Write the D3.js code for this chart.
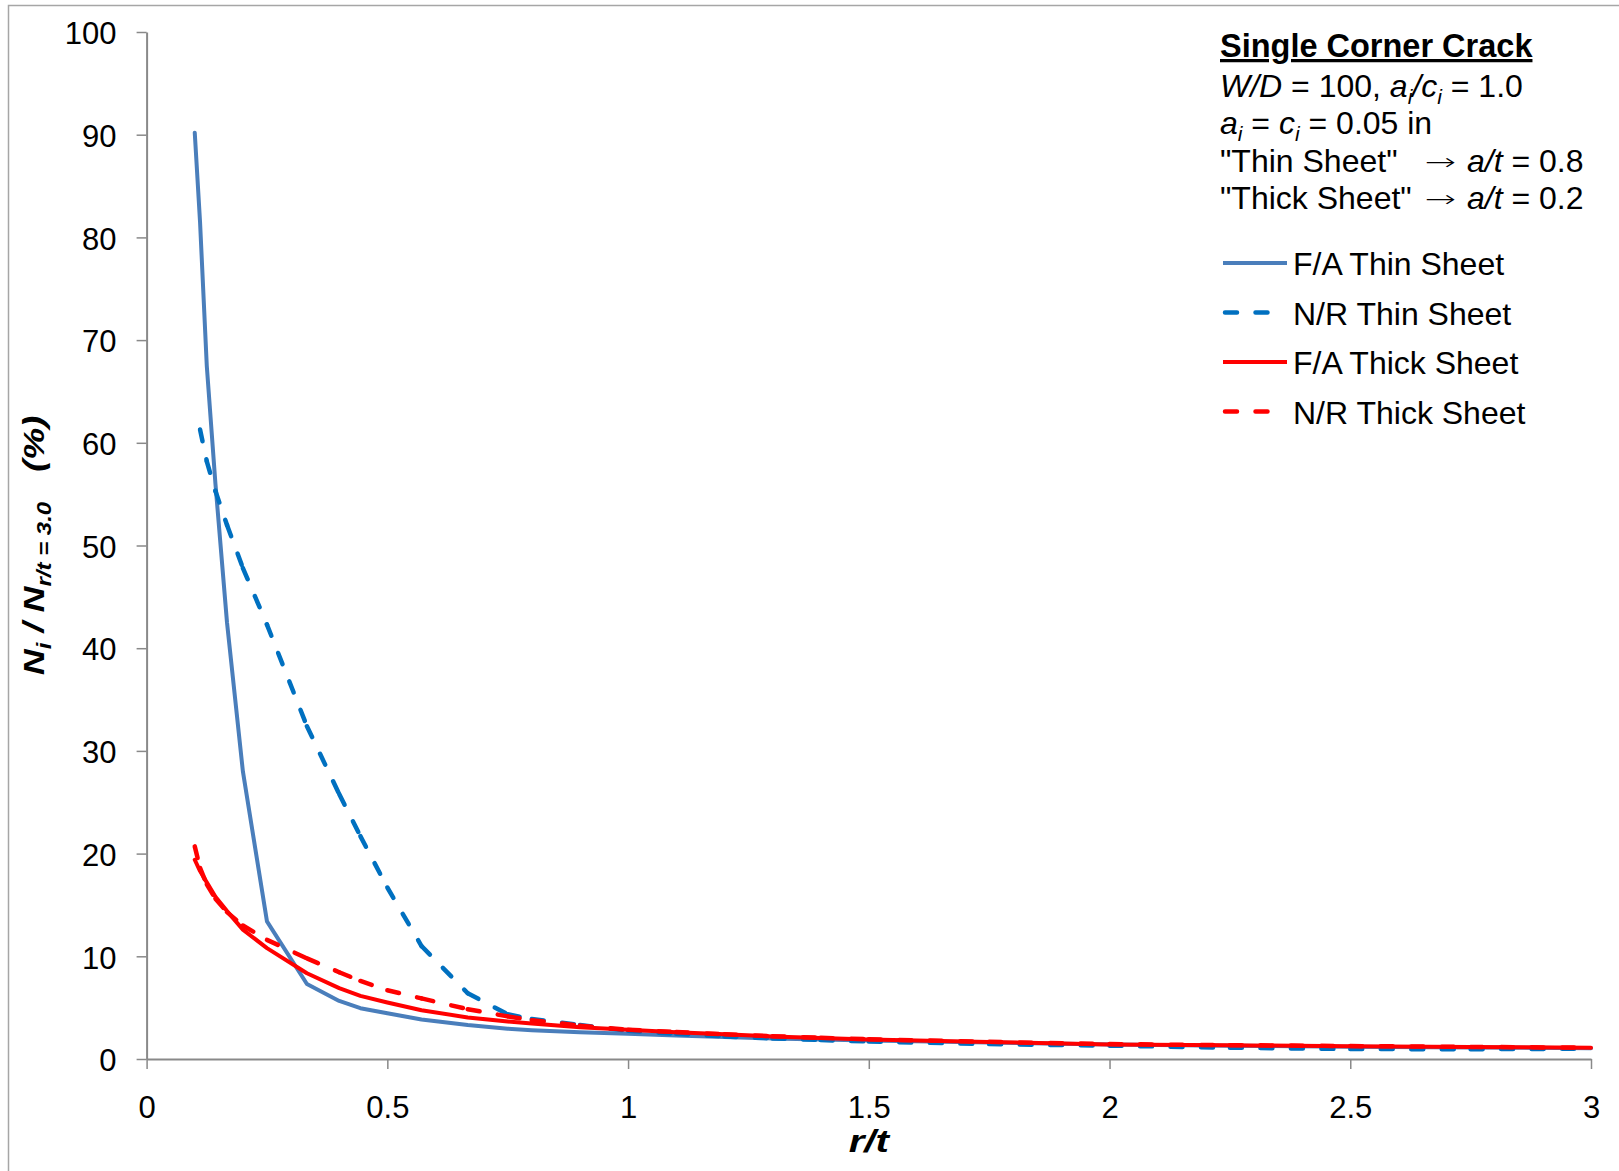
<!DOCTYPE html>
<html>
<head>
<meta charset="utf-8">
<script src="https://cdn.jsdelivr.net/npm/d3@7"></script>
<style>
  body { margin: 0; background: #fff; }
  svg { display: block; font-family: 'Liberation Sans', Arial, sans-serif; }
</style>
</head>
<body>
<div id="graph"></div>
<script>
// r/t values shared by every series
var rt = [0.1, 0.111, 0.125, 0.143, 0.167, 0.2, 0.25, 0.333, 0.4, 0.444, 0.5, 0.571, 0.667, 0.75,
          0.8, 0.9, 1.0, 1.1, 1.2, 1.3, 1.4, 1.5, 1.75, 2.0, 2.25, 2.5, 2.75, 3.0];

// Ni / N(r/t=3.0) in %
var faThin  = [90.2, 81.5, 67.5, 56.0, 42.5, 28.0, 13.4, 7.3, 5.65, 4.95, 4.45, 3.85, 3.3, 2.95,
               2.8, 2.6, 2.45, 2.3, 2.15, 2.0, 1.9, 1.8, 1.6, 1.4, 1.3, 1.2, 1.12, 1.05];
var nrThin  = [null, 61.3, 58.2, 55.3, 52.0, 47.8, 42.3, 32.4, 25.8, 21.7, 16.7, 11.0, 6.4, 4.35,
               3.9, 3.3, 2.75, 2.45, 2.2, 2.0, 1.85, 1.7, 1.45, 1.3, 1.1, 0.97, 0.95, 1.0];
var faThick = [19.4, 18.3, 17.2, 15.8, 14.4, 12.6, 10.8, 8.35, 6.9, 6.15, 5.5, 4.75, 4.05, 3.65,
               3.45, 3.1, 2.85, 2.6, 2.4, 2.2, 2.05, 1.9, 1.65, 1.42, 1.33, 1.25, 1.17, 1.1];
var nrThick = [20.7, 18.6, 17.0, 15.6, 14.3, 13.0, 11.6, 9.8, 8.45, 7.6, 6.7, 5.9, 4.85, 4.15,
               3.78, 3.25, 2.85, 2.62, 2.42, 2.22, 2.07, 1.92, 1.67, 1.45, 1.35, 1.26, 1.18, 1.1];

var seriesNames = ['F/A Thin Sheet', 'N/R Thin Sheet', 'F/A Thick Sheet', 'N/R Thick Sheet'];
var xTicks = [0, 0.5, 1, 1.5, 2, 2.5, 3];
var yTicks = [0, 10, 20, 30, 40, 50, 60, 70, 80, 90, 100];

(function() {
  'use strict';
  var
    width = 1619,
    height = 1171,
    margin = {top: 32, right: 28, bottom: 112, left: 146.6},
    axisColor = '#898989',
    dash = '12 18.5';

  var series = [
    {name: seriesNames[0], values: faThin,  color: '#4a7ebb', dashed: false},
    {name: seriesNames[1], values: nrThin,  color: '#0070c0', dashed: true},
    {name: seriesNames[2], values: faThick, color: '#ff0000', dashed: false},
    {name: seriesNames[3], values: nrThick, color: '#ff0000', dashed: true}
  ];

  var svg = d3.select('#graph').append('svg')
      .attr('width', width)
      .attr('height', height);

  // chart area border (runs off the right and bottom edges)
  svg.append('rect')
    .attr('x', 8.5).attr('y', 5.5)
    .attr('width', width + 40).attr('height', height + 40)
    .attr('fill', 'none')
    .attr('stroke', '#a6a6a6')
    .attr('stroke-width', 1.5);

  var x = d3.scaleLinear().domain([0, 3]).range([margin.left, width - margin.right]);
  var y = d3.scaleLinear().domain([0, 100]).range([height - margin.bottom, margin.top]);

  /*
  Axes
   */
  var gx = svg.append('g')
    .attr('transform', 'translate(0,' + y(0) + ')')
    .call(d3.axisBottom(x).tickValues(xTicks).tickSize(10).tickSizeOuter(0).tickPadding(27)
      .tickFormat(function(d) { return String(d); }));

  var gy = svg.append('g')
    .attr('transform', 'translate(' + x(0) + ',0)')
    .call(d3.axisLeft(y).tickValues(yTicks).tickSize(10).tickSizeOuter(0).tickPadding(20));

  [gx, gy].forEach(function(g) {
    g.select('.domain').attr('stroke', axisColor).attr('stroke-width', 2);
    g.selectAll('.tick line').attr('stroke', axisColor).attr('stroke-width', 1.5);
    g.selectAll('.tick text')
      .attr('fill', '#000')
      .style('font-size', '31px')
      .style('font-family', "'Liberation Sans', Arial, sans-serif");
  });
  gy.selectAll('.tick text').attr('dy', '0.38em');

  // axis titles (bold italic, drawn a bit wide like the original)
  svg.append('text')
    .attr('transform', 'translate(' + x(1.5) + ',1152) scale(1.3,1)')
    .attr('text-anchor', 'middle')
    .style('font-size', '31px')
    .style('font-weight', 'bold')
    .style('font-style', 'italic')
    .text('r/t');

  var yTitle = svg.append('text')
    .attr('transform', 'translate(44,' + ((y(0) + y(100)) / 2) + ') rotate(-90) scale(1.2,1)')
    .attr('text-anchor', 'middle')
    .style('font-size', '30px')
    .style('font-weight', 'bold')
    .style('font-style', 'italic')
    .style('white-space', 'pre');
  yTitle.append('tspan').text('N');
  yTitle.append('tspan').attr('dy', 7).style('font-size', '20px').text('i');
  yTitle.append('tspan').attr('dy', -7).text(' / N');
  yTitle.append('tspan').attr('dy', 7).style('font-size', '20px').text('r/t = 3.0');
  yTitle.append('tspan').attr('dy', -7).text('   (%)');

  /*
  Series lines
   */
  var line = d3.line()
    .x(function(d) { return x(d[0]); })
    .y(function(d) { return y(d[1]); });

  function points(values) {
    return rt.map(function(r, i) { return [r, values[i]]; })
      .filter(function(d) { return d[1] != null; });
  }

  series.forEach(function(s) {
    var pts = points(s.values);
    if (!s.dashed) {
      svg.append('path')
        .attr('d', line(pts))
        .attr('fill', 'none')
        .attr('stroke', s.color)
        .attr('stroke-width', 4)
        .attr('stroke-linejoin', 'round')
        .attr('stroke-linecap', 'round');
    } else {
      // dash pattern restarts at every data point
      svg.append('g').selectAll('path')
        .data(d3.pairs(pts))
        .enter().append('path')
        .attr('d', function(d) { return line(d); })
        .attr('fill', 'none')
        .attr('stroke', s.color)
        .attr('stroke-width', 4.5)
        .attr('stroke-linecap', 'round')
        .attr('stroke-dasharray', dash);
    }
  });

  /*
  Legend / notes block
   */
  var noteX = 1220;
  var note = svg.append('g').style('font-size', '32px').style('white-space', 'pre');

  note.append('text')
    .attr('x', noteX).attr('y', 57)
    .style('font-weight', 'bold')
    .style('font-size', '32.5px')
    .style('text-decoration', 'underline')
    .text('Single Corner Crack');

  function richLine(yPos, parts) {
    var t = note.append('text').attr('x', noteX).attr('y', yPos);
    var shift = 0;
    parts.forEach(function(p) {
      var ts = t.append('tspan').text(p.t);
      if (p.i) ts.style('font-style', 'italic');
      if (p.x) ts.attr('x', p.x);
      var want = p.sub ? 7 : 0;
      if (want !== shift) { ts.attr('dy', want - shift); shift = want; }
      if (p.sub) ts.style('font-size', '21px');
    });
  }

  function arrow(yPos) {
    note.append('text')
      .attr('transform', 'translate(1425,' + (yPos - 2) + ') scale(1.3,0.8)')
      .style('font-family', "'DejaVu Sans', sans-serif")
      .style('font-weight', 200)
      .style('font-size', '29px')
      .text('\u2192');
  }

  richLine(97, [
    {t: 'W/D', i: true}, {t: ' = 100, '}, {t: 'a', i: true}, {t: 'i', i: true, sub: true},
    {t: '/c', i: true}, {t: 'i', i: true, sub: true}, {t: ' = 1.0'}
  ]);
  richLine(134, [
    {t: 'a', i: true}, {t: 'i', i: true, sub: true}, {t: ' = '}, {t: 'c', i: true},
    {t: 'i', i: true, sub: true}, {t: ' = 0.05 in'}
  ]);
  richLine(172, [
    {t: '"Thin Sheet"'}, {t: 'a/t', i: true, x: 1467}, {t: ' = 0.8'}
  ]);
  richLine(209, [
    {t: '"Thick Sheet"'}, {t: 'a/t', i: true, x: 1467}, {t: ' = 0.2'}
  ]);
  arrow(172);
  arrow(209);

  var legend = svg.append('g').selectAll('g')
    .data(series)
    .enter().append('g')
    .attr('transform', function(d, i) { return 'translate(0,' + (263 + i * 49.5) + ')'; });

  legend.append('line')
    .attr('x1', function(d) { return d.dashed ? 1225 : 1223; })
    .attr('x2', function(d) { return d.dashed ? 1268 : 1287; })
    .attr('stroke', function(d) { return d.color; })
    .attr('stroke-width', function(d) { return d.dashed ? 4.5 : 4; })
    .attr('stroke-linecap', function(d) { return d.dashed ? 'round' : 'butt'; })
    .attr('stroke-dasharray', function(d) { return d.dashed ? dash : null; });

  legend.append('text')
    .attr('x', 1293)
    .attr('y', 12)
    .style('font-size', '32px')
    .text(function(d) { return d.name; });
})();
</script>
</body>
</html>
